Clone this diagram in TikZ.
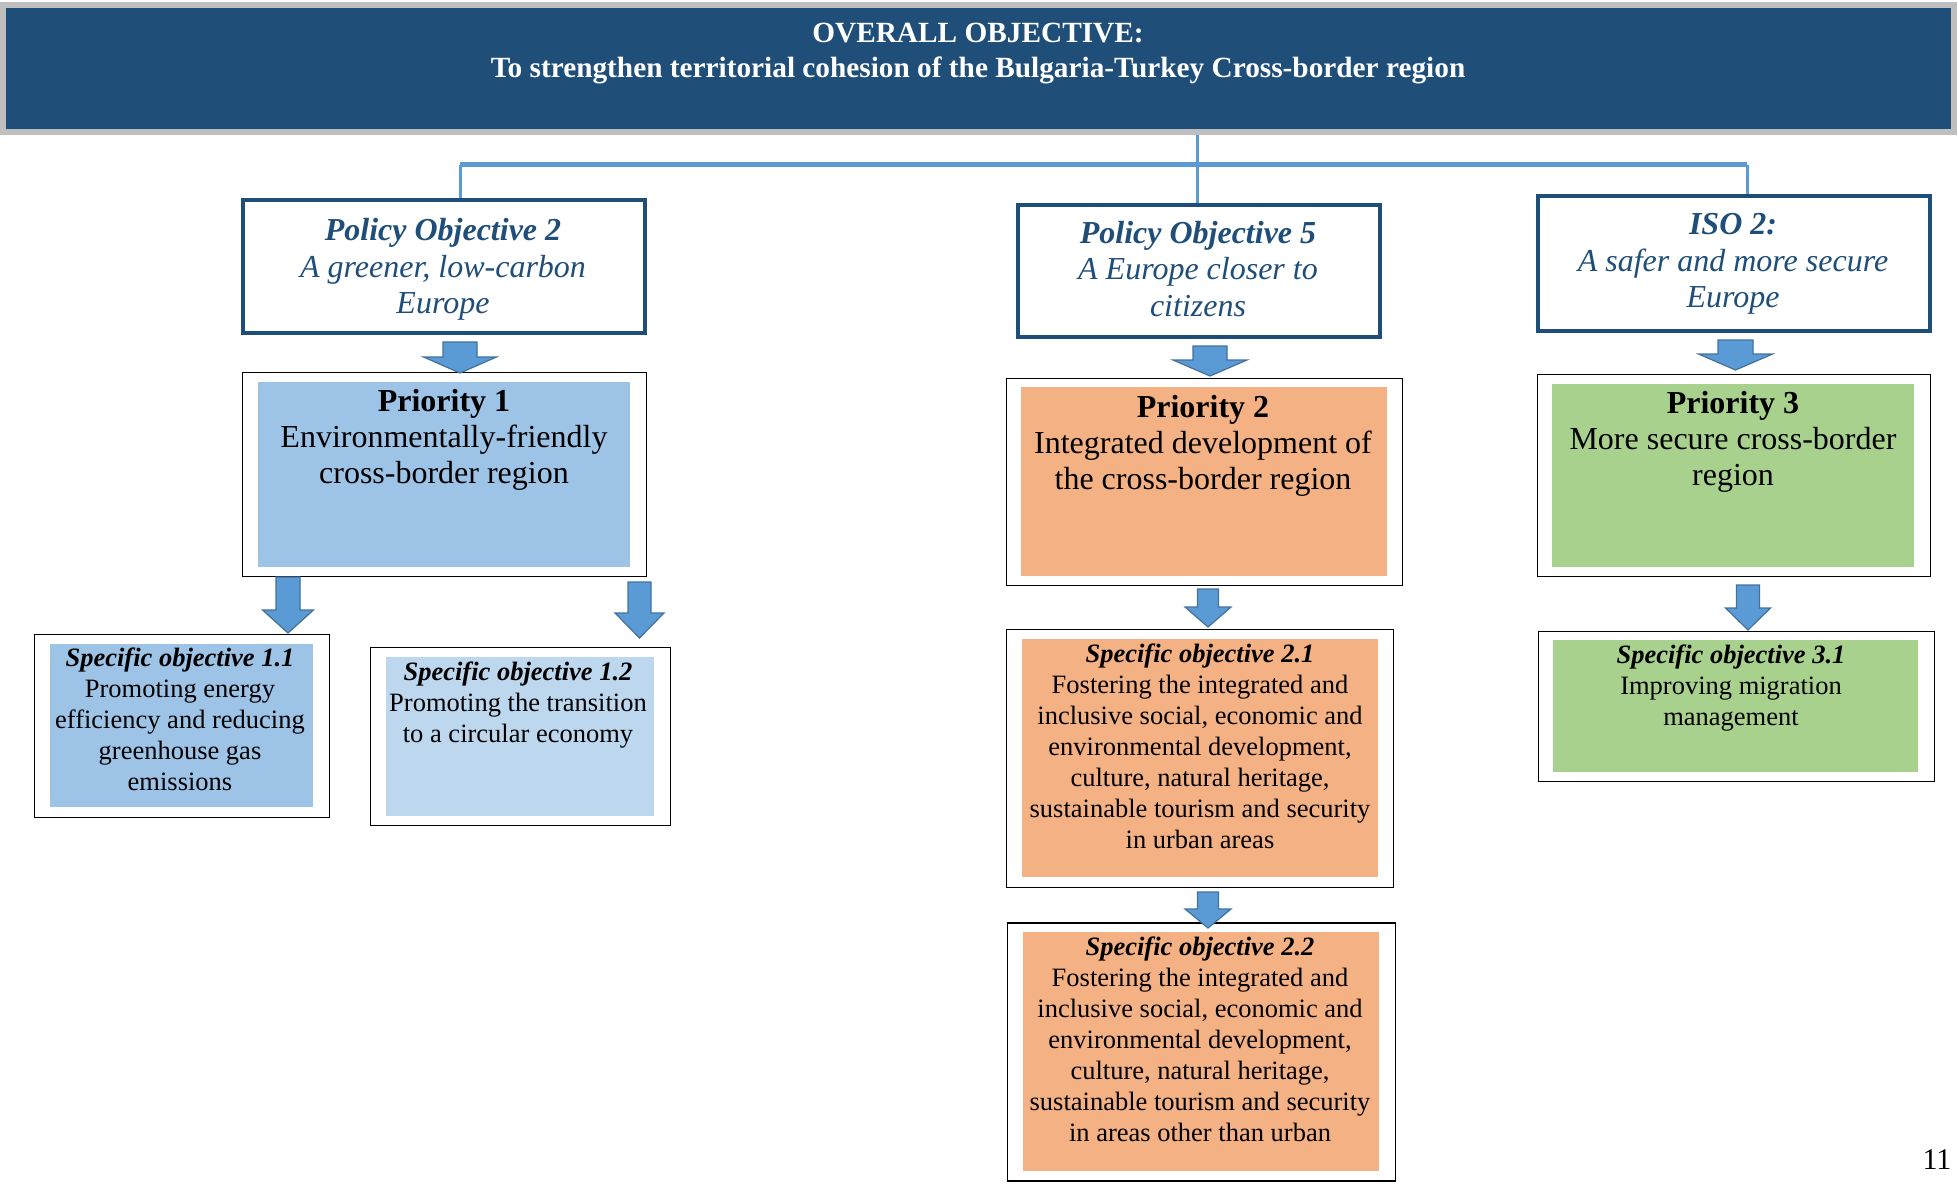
\documentclass[tikz,border=0pt]{standalone}
\usepackage{fontspec}
\setmainfont{Liberation Serif}
\usetikzlibrary{backgrounds}
\definecolor{navy}{HTML}{1F4E79}
\definecolor{framegray}{HTML}{BFBFBF}
\definecolor{lineblue}{HTML}{5B9BD5}
\definecolor{arrowedge}{HTML}{41719C}
\definecolor{blueA}{HTML}{9DC3E6}
\definecolor{blueB}{HTML}{BDD7EE}
\definecolor{orangeA}{HTML}{F4B183}
\definecolor{greenA}{HTML}{A9D18E}
\newcommand\bigarr[6]{\filldraw[fatarrow] ({#1-#5},#2) -- ({#1+#5},#2) -- ({#1+#5},#3) -- ({#1+#6},#3) -- (#1,#4) -- ({#1-#6},#3) -- ({#1-#5},#3) -- cycle;}
\tikzset{
  box/.style={rectangle, inner sep=0pt, outer sep=0pt},
  pobox/.style={box, draw=navy, line width=3.5pt, fill=white},
  wbox/.style={box, draw=black, line width=1.5pt, fill=white},
  fillrect/.style={box},
  conn/.style={draw=lineblue, line width=3pt},
  barline/.style={draw=lineblue, line width=5pt},
  fatarrow/.style={fill=lineblue, draw=arrowedge, line width=1.2pt, line join=miter},
  potext/.style={inner sep=0pt, text=navy, align=center, font=\fontsize{32}{36.5}\selectfont\itshape},
  prtext/.style={inner sep=0pt, align=center, font=\fontsize{32}{36}\selectfont},
  sotext/.style={inner sep=0pt, align=center, font=\fontsize{26.5}{31}\selectfont},
}
\begin{document}
\begin{tikzpicture}[x=1pt, y=-1pt]
\useasboundingbox (0,0) rectangle (1958,1183);
% banner
\node[box, fill=navy, draw=framegray, line width=6pt, minimum width=1951pt, minimum height=127pt] (banner) at (978.5,68.5) {};
\node[inner sep=0pt, text=white, align=center, font=\fontsize{29.3}{35}\selectfont\bfseries] (bannertext) at (978,54) {OVERALL OBJECTIVE:\\To strengthen territorial cohesion of the Bulgaria-Turkey Cross-border region};
% policy objective boxes
\node[pobox, minimum width=402pt, minimum height=133pt] (po2) at (444,266.5) {};
\node[potext] (po2t) at (443,269.5) {\textbf{Policy Objective 2}\\A greener, low-carbon\\Europe};
\node[pobox, minimum width=362pt, minimum height=132pt] (po5) at (1199,271) {};
\node[potext] (po5t) at (1198,269) {\textbf{Policy Objective 5}\\A Europe closer to\\citizens};
\node[pobox, minimum width=392pt, minimum height=135pt] (iso) at (1734,263.5) {};
\node[potext] (isot) at (1733,264) {\textbf{ISO 2:}\\A safer and more secure\\Europe};
% connectors
\coordinate (jc) at (1197,164.5);
\coordinate (jl) at (460,164.5);
\coordinate (jr) at (1747,164.5);
\begin{scope}[on background layer]
\draw[conn] (banner.south -| jc) -- (jc);
\draw[barline] (jl) -- (jr);
\draw[conn] (jl) -- (jl |- po2.north);
\draw[conn] (jc) -- (jc |- po5.north);
\draw[conn] (jr) -- (jr |- iso.north);
\end{scope}
% priorities
\node[wbox, minimum width=404pt, minimum height=204pt] (p1) at (444.5,474.5) {};
\node[fillrect, fill=blueA, minimum width=372pt, minimum height=185pt] (p1f) at (444,474.5) {};
\node[prtext] (p1t) at (444,440) {\textbf{Priority 1}\\Environmentally-friendly\\cross-border region};
\node[wbox, minimum width=396pt, minimum height=207pt] (p2) at (1204.5,482) {};
\node[fillrect, fill=orangeA, minimum width=366pt, minimum height=189pt] (p2f) at (1204,481.5) {};
\node[prtext] (p2t) at (1203,445.5) {\textbf{Priority 2}\\Integrated development of\\the cross-border region};
\node[wbox, minimum width=393pt, minimum height=202pt] (p3) at (1734,475.5) {};
\node[fillrect, fill=greenA, minimum width=362pt, minimum height=183pt] (p3f) at (1733,475.5) {};
\node[prtext] (p3t) at (1733,442) {\textbf{Priority 3}\\More secure cross-border\\region};
% specific objectives
\node[wbox, minimum width=295pt, minimum height=183pt] (s11) at (182,726) {};
\node[fillrect, fill=blueA, minimum width=263pt, minimum height=163pt] (s11f) at (181.5,725.5) {};
\node[sotext] (s11t) at (180,719) {\textbf{\textit{Specific objective 1.1}}\\Promoting energy\\efficiency and reducing\\greenhouse gas\\emissions};
\node[wbox, minimum width=300pt, minimum height=178pt] (s12) at (520.5,736.5) {};
\node[fillrect, fill=blueB, minimum width=268pt, minimum height=159pt] (s12f) at (520,736.5) {};
\node[sotext] (s12t) at (518,705) {\textbf{\textit{Specific objective 1.2}}\\Promoting the transition\\to a circular economy};
\node[wbox, minimum width=387pt, minimum height=258pt] (s21) at (1200,758.5) {};
\node[fillrect, fill=orangeA, minimum width=356pt, minimum height=238pt] (s21f) at (1200,758) {};
\node[sotext] (s21t) at (1200,746) {\textbf{\textit{Specific objective 2.1}}\\Fostering the integrated and\\inclusive social, economic and\\environmental development,\\culture, natural heritage,\\sustainable tourism and security\\in urban areas};
\node[wbox, minimum width=388pt, minimum height=258pt] (s22) at (1201.5,1052) {};
\node[fillrect, fill=orangeA, minimum width=356pt, minimum height=239pt] (s22f) at (1201,1051.5) {};
\node[sotext] (s22t) at (1200,1039) {\textbf{\textit{Specific objective 2.2}}\\Fostering the integrated and\\inclusive social, economic and\\environmental development,\\culture, natural heritage,\\sustainable tourism and security\\in areas other than urban};
\node[wbox, minimum width=396pt, minimum height=150pt] (s31) at (1736.5,706.5) {};
\node[fillrect, fill=greenA, minimum width=365pt, minimum height=132pt] (s31f) at (1735.5,706) {};
\node[sotext] (s31t) at (1731,688) {\textbf{\textit{Specific objective 3.1}}\\Improving migration\\management};
% block arrows
\bigarr{460}{342}{357}{373}{17}{36.5}
\bigarr{288}{577}{610}{633}{12}{25.5}
\bigarr{639.5}{582}{613}{638}{11.5}{24.5}
\bigarr{1210}{346}{360}{376}{17}{37}
\bigarr{1208}{589}{607}{627}{10.5}{23}
\bigarr{1208}{892}{909}{928}{10.5}{23}
\bigarr{1735.5}{340}{354}{370}{17.5}{37}
\bigarr{1748}{585}{608}{630}{11.5}{22.5}
% page number
\node[inner sep=0pt, font=\fontsize{30}{34}\selectfont] (pagenum) at (1937,1160) {11};
\end{tikzpicture}
\end{document}
